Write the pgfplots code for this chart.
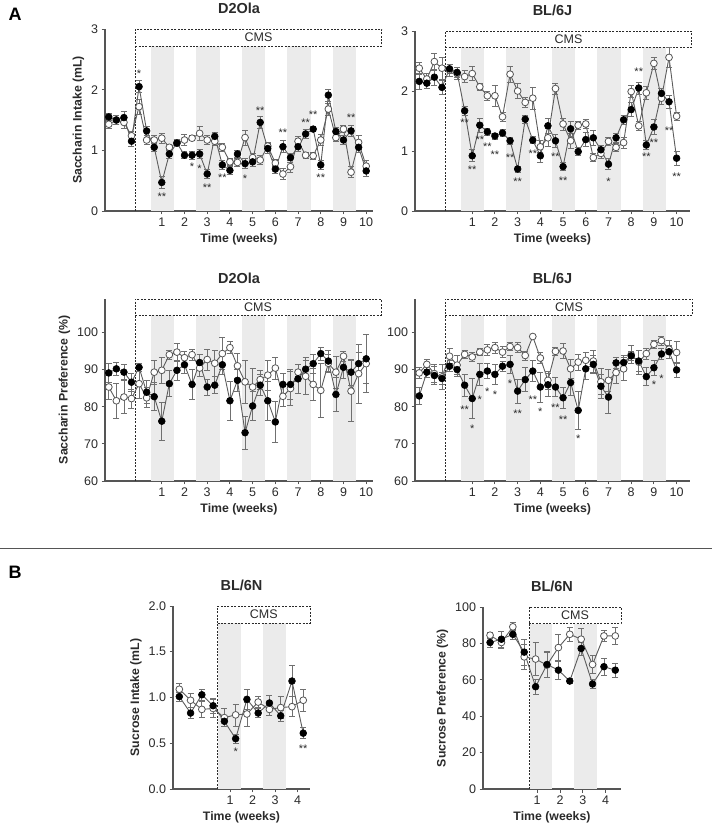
\documentclass[border=0pt]{standalone}
\usepackage{fontspec}
\setmainfont{Liberation Sans}
\usepackage{pgfplots}
\usepackage{pgfplotstable}
\pgfplotsset{compat=1.18}

\definecolor{band}{HTML}{EBEBEB}
\definecolor{axisgray}{HTML}{555555}
\definecolor{linegray}{HTML}{5C5C5C}
\definecolor{errgray}{HTML}{707070}
\definecolor{txt}{HTML}{2A2A2A}

% t = measurement index (3 per week), b/be = filled series, w/we = open series
\pgfplotstableread{
t  b    be   w    we
-4 1.55 0.06 1.43 0.07
-3 1.50 0.08 1.50 0.08
-2 1.54 0.11 1.46 0.10
-1 1.15 0.09 1.24 0.08
0  2.05 0.10 1.72 0.12
1  1.32 0.07 1.17 0.07
2  1.05 0.07 1.17 0.08
3  0.47 0.10 1.20 0.08
4  0.94 0.07 1.05 0.05
5  1.12 0.06 1.12 0.06
6  0.92 0.06 1.17 0.09
7  0.92 0.07 1.20 0.04
8  0.94 0.08 1.28 0.11
9  0.61 0.07 1.17 0.07
10 1.23 0.07 1.15 0.07
11 0.76 0.07 1.05 0.07
12 0.67 0.07 0.81 0.06
13 0.94 0.06 0.80 0.06
14 0.78 0.08 1.21 0.12
15 0.81 0.07 0.88 0.07
16 1.46 0.10 0.84 0.07
17 1.03 0.08 1.07 0.06
18 0.69 0.07 0.79 0.06
19 1.06 0.10 0.61 0.09
20 0.88 0.07 0.73 0.10
21 1.06 0.08 1.15 0.08
22 1.27 0.07 0.92 0.05
23 1.35 0.04 0.91 0.06
24 0.76 0.07 1.17 0.09
25 1.91 0.10 1.68 0.10
26 1.31 0.07 1.21 0.07
27 1.17 0.07 1.35 0.06
28 1.32 0.09 0.64 0.09
29 1.05 0.09 1.13 0.11
30 0.66 0.09 0.74 0.10
}\intakeA

\pgfplotstableread{
t  b    be   w    we
-4 2.16 0.14 2.38 0.10
-3 2.13 0.09 2.20 0.10
-2 2.23 0.13 2.49 0.14
-1 2.06 0.12 2.38 0.18
0  2.37 0.07 2.35 0.10
1  2.31 0.09 2.29 0.10
2  1.67 0.08 2.24 0.10
3  0.92 0.10 2.29 0.12
4  1.43 0.12 2.07 0.06
5  1.32 0.06 1.92 0.08
6  1.25 0.05 1.92 0.18
7  1.30 0.06 1.57 0.08
8  1.17 0.06 2.28 0.13
9  0.70 0.05 2.00 0.12
10 1.53 0.07 1.81 0.08
11 1.18 0.06 1.88 0.18
12 0.92 0.11 1.07 0.10
13 1.42 0.13 1.22 0.15
14 1.17 0.11 2.04 0.09
15 0.74 0.07 1.45 0.10
16 1.37 0.12 1.17 0.13
17 0.99 0.07 1.43 0.07
18 1.19 0.12 1.45 0.08
19 1.22 0.12 0.89 0.07
20 1.02 0.08 0.96 0.08
21 0.78 0.09 1.16 0.06
22 1.22 0.07 1.06 0.07
23 1.52 0.08 1.14 0.09
24 1.69 0.12 1.99 0.10
25 2.05 0.10 1.42 0.08
26 1.10 0.07 1.97 0.11
27 1.40 0.13 2.46 0.10
28 1.96 0.08 1.88 0.10
29 1.82 0.11 2.56 0.16
30 0.88 0.12 1.58 0.07
}\intakeB

\pgfplotstableread{
t  b    be  w    we
-4 89.1 2.6 85.3 3.2
-3 90.2 1.8 81.6 4.7
-2 89.3 2.0 82.6 4.5
-1 86.6 2.4 82.2 2.6
0  90.6 1.0 86.2 4.0
1  83.9 3.1 82.4 2.7
2  82.7 3.8 89.3 3.3
3  76.1 5.2 89.8 3.5
4  86.2 3.5 94.0 1.3
5  89.8 2.6 94.7 2.4
6  91.3 2.3 93.2 1.8
7  86.0 4.0 94.0 1.5
8  91.9 2.2 90.4 2.2
9  85.3 2.2 92.7 2.8
10 85.8 2.3 91.7 3.5
11 91.3 2.6 94.3 4.3
12 81.6 5.2 95.9 1.6
13 87.1 3.0 91.0 3.3
14 73.0 4.5 86.7 5.8
15 80.2 4.0 85.3 4.9
16 85.8 2.8 87.3 2.6
17 81.6 5.3 88.5 4.0
18 75.9 5.6 90.4 2.9
19 86.0 3.0 82.8 2.6
20 86.0 4.0 84.9 4.5
21 87.5 3.9 89.3 2.0
22 90.1 2.4 88.2 5.0
23 91.6 2.5 86.0 4.2
24 94.3 1.8 84.4 7.2
25 92.3 2.8 91.7 2.5
26 83.3 4.5 89.3 4.3
27 90.6 3.0 93.6 1.3
28 89.3 3.5 84.2 8.2
29 91.6 3.0 88.9 7.9
30 92.9 6.5 91.6 7.8
}\prefA

\pgfplotstableread{
t  b    be  w    we
-4 82.9 2.3 89.1 1.5
-3 89.3 1.3 91.4 1.4
-2 88.4 2.5 88.9 2.4
-1 87.6 1.6 88.0 3.3
0  90.9 1.5 93.6 2.0
1  90.0 1.8 91.2 2.5
2  85.8 3.0 94.1 1.2
3  82.2 5.4 93.4 1.3
4  88.7 2.9 94.7 1.0
5  89.6 2.0 95.3 1.5
6  88.7 2.8 95.9 1.4
7  90.9 1.3 94.7 1.5
8  91.4 2.5 96.2 1.0
9  84.2 3.3 95.9 1.3
10 87.3 3.2 93.8 1.2
11 89.6 2.8 98.9 0.5
12 85.3 4.0 93.1 1.5
13 85.9 3.0 87.1 2.5
14 85.3 2.5 94.9 1.0
15 82.4 2.9 95.0 2.0
16 86.5 3.5 90.2 2.5
17 79.0 5.1 92.0 2.2
18 90.2 2.8 92.5 2.2
19 91.4 2.4 92.3 3.0
20 85.5 3.2 86.7 3.5
21 82.6 4.4 87.1 3.0
22 91.8 1.5 89.2 3.0
23 91.9 2.0 90.2 3.2
24 93.7 1.2 94.0 2.4
25 92.3 2.8 92.0 3.3
26 88.1 2.4 94.3 1.5
27 90.5 2.0 96.8 1.0
28 94.2 1.5 97.8 1.2
29 94.8 1.8 95.5 2.5
30 89.9 2.1 94.6 3.0
}\prefB

% t = measurement index (2 per week)
\pgfplotstableread{
t  b    be   w    we
-3 1.01 0.05 1.09 0.07
-2 0.83 0.06 0.97 0.08
-1 1.03 0.06 0.87 0.09
0  0.91 0.08 0.88 0.10
1  0.74 0.06 0.78 0.10
2  0.55 0.05 0.81 0.12
3  0.98 0.11 0.82 0.13
4  0.83 0.05 0.95 0.06
5  0.94 0.08 0.87 0.07
6  0.80 0.06 0.89 0.12
7  1.18 0.17 0.90 0.11
8  0.61 0.06 0.97 0.12
}\sucIntake

\pgfplotstableread{
t  b    be  w    we
-3 80.5 2.5 84.5 1.8
-2 82.3 4.5 80.5 3.0
-1 85.0 2.8 89.1 2.2
0  75.2 7.0 72.6 7.0
1  56.2 4.0 71.4 9.0
2  68.4 7.0 68.1 7.0
3  65.3 5.0 77.7 7.0
4  59.3 1.5 85.0 4.0
5  77.2 3.5 82.3 6.0
6  57.7 2.5 68.4 5.0
7  67.2 4.5 84.1 3.0
8  65.3 4.0 84.1 4.5
}\sucPref

% significance marks
\pgfplotstableread{
t  y    s
0  2.27 *
3  0.23 **
7  0.73 *
8  0.70 *
9  0.39 **
11 0.55 **
14 0.54 *
16 1.66 **
19 1.29 **
22 1.45 **
23 1.58 **
24 0.55 **
28 1.54 **
}\starsA

\pgfplotstableread{
t  y    s
2  1.47 **
3  0.69 **
4  1.18 **
5  1.07 **
6  0.94 **
8  0.89 **
9  0.49 **
11 0.96 **
14 0.91 **
15 0.50 **
21 0.49 *
25 2.32 **
26 0.91 **
27 1.13 **
29 1.34 **
30 0.57 **
}\starsB

\pgfplotstableread{
t  y    s
2  79.2 **
3  74.1 *
4  82.0 *
5  84.0 *
6  83.1 *
8  86.2 *
9  78.0 **
11 81.9 **
12 78.6 *
14 79.7 **
15 76.6 **
17 71.4 *
27 86.0 *
28 87.6 *
}\starsC

\pgfplotstableread{
t y    s
2 0.41 *
8 0.44 **
}\starsD

\pgfplotsset{
  panel/.style={
    scale only axis,
    anchor=south west,
    axis x line*=bottom,
    axis y line*=left,
    axis line style={draw=axisgray, line width=1.1pt},
    tick style={draw=axisgray, line width=0.9pt},
    major tick length=3.5pt,
    tick align=outside,
    clip=false,
    ticklabel style={font=\fontsize{12.5}{14}\selectfont, text=txt},
    label style={font=\bfseries\fontsize{12.3}{14}\selectfont, text=txt},
    title style={font=\bfseries\fontsize{14.5}{16}\selectfont, text=txt, yshift=5.5pt},
    /pgf/number format/assume math mode=true,
    xlabel={Time (weeks)},
  },
  openser/.style={
    color=linegray, line width=0.9pt,
    mark=*, mark size=3.4pt,
    mark options={fill=white, draw=axisgray, line width=0.8pt},
    error bars/.cd, y dir=both, y explicit,
    error bar style={errgray, line width=0.7pt},
    error mark options={rotate=90, errgray, line width=0.7pt, mark size=3pt},
  },
  filledser/.style={
    color=linegray, line width=0.9pt,
    mark=*, mark size=3.4pt,
    mark options={fill=black, draw=black, line width=0.6pt},
    error bars/.cd, y dir=both, y explicit,
    error bar style={errgray, line width=0.7pt},
    error mark options={rotate=90, errgray, line width=0.7pt, mark size=3pt},
  },
  bandfill/.style={fill=band, draw=none},
  cmsbox/.style={draw=txt, line width=0.8pt, dash pattern=on 2pt off 1.4pt},
  starmarks/.style={
    draw=none, mark=none,
    nodes near coords, point meta=explicit symbolic,
    every node near coord/.append style={anchor=center, inner sep=0pt,
      font=\fontsize{11}{11}\selectfont, text=txt},
  },
}

\newcommand\cmsfont{\fontsize{12.5}{14}\selectfont}

\begin{document}
\begin{tikzpicture}
\path[use as bounding box] (0,0) rectangle (712pt,838pt);

\node[font=\bfseries\fontsize{18}{20}\selectfont, anchor=center] at (15pt,824pt) {A};
\node[font=\bfseries\fontsize{18}{20}\selectfont, anchor=center] at (15pt,266pt) {B};
\draw[axisgray, line width=0.9pt] (0pt,290pt) -- (712pt,290pt);

% ---------- Saccharin intake, D2Ola ----------
\begin{axis}[panel, at={(105pt,627pt)}, width=268pt, height=182pt,
  xmin=-1.5, xmax=10.3, ymin=0, ymax=3,
  xtick={1,...,10}, ytick={0,1,2,3},
  title={D2Ola}, ylabel={Saccharin Intake (mL)}]
  \pgfplotsinvokeforeach{1,3,5,7,9}{
    \addplot[bandfill] coordinates {(#1-0.48,0) (#1+0.55,0) (#1+0.55,2.72) (#1-0.48,2.72)} -- cycle;
  }
  \addplot[cmsbox] coordinates {(-0.17,2.72) (10.69,2.72) (10.69,3) (-0.17,3)} -- cycle;
  \addplot[cmsbox] coordinates {(-0.17,0) (-0.17,2.72)};
  \node[font=\cmsfont, text=txt] at (axis cs:5.26,2.86) {CMS};
  \addplot[openser] table[x expr=\thisrow{t}/3, y=w, y error=we] {\intakeA};
  \addplot[filledser] table[x expr=\thisrow{t}/3, y=b, y error=be] {\intakeA};
  \addplot[starmarks] table[x expr=\thisrow{t}/3, y=y, meta=s] {\starsA};
\end{axis}

% ---------- Saccharin intake, BL/6J ----------
\begin{axis}[panel, at={(415pt,627pt)}, width=275pt, height=180pt,
  xmin=-1.52, xmax=10.59, ymin=0, ymax=3,
  xtick={1,...,10}, ytick={0,1,2,3},
  title={BL/6J}]
  \pgfplotsinvokeforeach{1,3,5,7,9}{
    \addplot[bandfill] coordinates {(#1-0.5,0) (#1+0.53,0) (#1+0.53,2.73) (#1-0.5,2.73)} -- cycle;
  }
  \addplot[cmsbox] coordinates {(-0.19,2.73) (10.66,2.73) (10.66,3) (-0.19,3)} -- cycle;
  \addplot[cmsbox] coordinates {(-0.19,0) (-0.19,2.73)};
  \node[font=\cmsfont, text=txt] at (axis cs:5.24,2.865) {CMS};
  \addplot[openser] table[x expr=\thisrow{t}/3, y=w, y error=we] {\intakeB};
  \addplot[filledser] table[x expr=\thisrow{t}/3, y=b, y error=be] {\intakeB};
  \addplot[starmarks] table[x expr=\thisrow{t}/3, y=y, meta=s] {\starsB};
\end{axis}

% ---------- Saccharin preference, D2Ola ----------
\begin{axis}[panel, at={(105pt,357pt)}, width=268pt, height=182pt,
  xmin=-1.5, xmax=10.3, ymin=60, ymax=109,
  xtick={1,...,10}, ytick={60,70,80,90,100},
  title={D2Ola}, ylabel={Saccharin Preference (\%)}]
  \pgfplotsinvokeforeach{1,3,5,7,9}{
    \addplot[bandfill] coordinates {(#1-0.48,60) (#1+0.55,60) (#1+0.55,104.7) (#1-0.48,104.7)} -- cycle;
  }
  \addplot[cmsbox] coordinates {(-0.17,104.7) (10.65,104.7) (10.65,109) (-0.17,109)} -- cycle;
  \addplot[cmsbox] coordinates {(-0.17,60) (-0.17,104.7)};
  \node[font=\cmsfont, text=txt] at (axis cs:5.24,106.85) {CMS};
  \addplot[openser] table[x expr=\thisrow{t}/3, y=w, y error=we] {\prefA};
  \addplot[filledser] table[x expr=\thisrow{t}/3, y=b, y error=be] {\prefA};
\end{axis}

% ---------- Saccharin preference, BL/6J ----------
\begin{axis}[panel, at={(415pt,357pt)}, width=275pt, height=182pt,
  xmin=-1.52, xmax=10.59, ymin=60, ymax=109,
  xtick={1,...,10}, ytick={60,70,80,90,100},
  title={BL/6J}]
  \pgfplotsinvokeforeach{1,3,5,7,9}{
    \addplot[bandfill] coordinates {(#1-0.5,60) (#1+0.53,60) (#1+0.53,104.7) (#1-0.5,104.7)} -- cycle;
  }
  \addplot[cmsbox] coordinates {(-0.19,104.7) (10.7,104.7) (10.7,109) (-0.19,109)} -- cycle;
  \addplot[cmsbox] coordinates {(-0.19,60) (-0.19,104.7)};
  \node[font=\cmsfont, text=txt] at (axis cs:5.26,106.85) {CMS};
  \addplot[openser] table[x expr=\thisrow{t}/3, y=w, y error=we] {\prefB};
  \addplot[filledser] table[x expr=\thisrow{t}/3, y=b, y error=be] {\prefB};
  \addplot[starmarks] table[x expr=\thisrow{t}/3, y=y, meta=s] {\starsC};
\end{axis}

% ---------- Sucrose intake, BL/6N ----------
\begin{axis}[panel, at={(173pt,49pt)}, width=137pt, height=183pt,
  xmin=-1.53, xmax=4.55, ymin=0, ymax=2,
  xtick={1,2,3,4}, ytick={0,0.5,1,1.5,2},
  yticklabel style={/pgf/number format/.cd, fixed, fixed zerofill, precision=1},
  title={BL/6N}, ylabel={Sucrose Intake (mL)}]
  \pgfplotsinvokeforeach{0.48,2.48}{
    \addplot[bandfill] coordinates {(#1,0) (#1+1.0,0) (#1+1.0,1.81) (#1,1.81)} -- cycle;
  }
  \addplot[cmsbox] coordinates {(0.45,1.81) (4.55,1.81) (4.55,2) (0.45,2)} -- cycle;
  \addplot[cmsbox] coordinates {(0.45,0) (0.45,1.81)};
  \node[font=\cmsfont, text=txt] at (axis cs:2.5,1.905) {CMS};
  \addplot[openser] table[x expr=\thisrow{t}/2+0.25, y=w, y error=we] {\sucIntake};
  \addplot[filledser] table[x expr=\thisrow{t}/2+0.25, y=b, y error=be] {\sucIntake};
  \addplot[starmarks] table[x expr=\thisrow{t}/2+0.25, y=y, meta=s] {\starsD};
\end{axis}

% ---------- Sucrose preference, BL/6N ----------
\begin{axis}[panel, at={(483pt,49pt)}, width=138pt, height=182pt,
  xmin=-1.56, xmax=4.5, ymin=0, ymax=100,
  xtick={0.82,1.82,2.82,3.82}, xticklabels={1,2,3,4},
  ytick={0,20,40,60,80,100},
  title={BL/6N}, ylabel={Sucrose Preference (\%)}]
  \addplot[bandfill] coordinates {(0.5,0) (1.48,0) (1.48,90.9) (0.5,90.9)} -- cycle;
  \addplot[bandfill] coordinates {(2.43,0) (3.46,0) (3.46,90.9) (2.43,90.9)} -- cycle;
  \addplot[cmsbox] coordinates {(0.46,90.9) (4.5,90.9) (4.5,100) (0.46,100)} -- cycle;
  \addplot[cmsbox] coordinates {(0.46,0) (0.46,90.9)};
  \node[font=\cmsfont, text=txt] at (axis cs:2.48,95.45) {CMS};
  \addplot[openser] table[x expr=\thisrow{t}/2+0.25, y=w, y error=we] {\sucPref};
  \addplot[filledser] table[x expr=\thisrow{t}/2+0.25, y=b, y error=be] {\sucPref};
\end{axis}
\end{tikzpicture}
\end{document}
